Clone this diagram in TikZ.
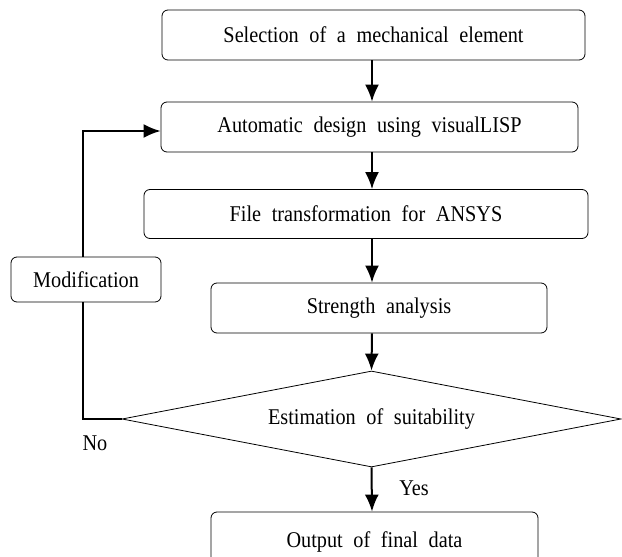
\documentclass[tikz,border=0pt]{standalone}
\usepackage{fontspec}
\setmainfont{Liberation Serif}[WordSpace=2.1, FakeStretch=0.9]
\usetikzlibrary{positioning,shapes.geometric,arrows.meta}

\begin{document}
\begin{tikzpicture}[x=1pt, y=-1pt,
	main/.style={rectangle, rounded corners=6pt, text centered, draw=black, line width=0.8pt, inner sep=0pt, minimum height=50pt, font=\fontsize{22.5}{26}\selectfont},
	test/.style={diamond, aspect=5.2, text centered, draw=black, line width=0.8pt, inner sep=0pt, minimum width=499pt, minimum height=96pt, font=\fontsize{22.5}{26}\selectfont},
	flow/.style={line width=2pt, -{Latex[length=17pt, width=14pt]}},
	lbl/.style={font=\fontsize{22.5}{26}\selectfont}
	]
	\clip (0,0) rectangle (622,557);
	\coordinate (axis) at (372,0);
	\coordinate (back) at (83,0);

		\node (select) [main, minimum width=423pt] at (373.5,35) {Selection of a mechanical element};
		\node (auto) [main, minimum width=417pt] at (369.5,127) {Automatic design using visualLISP};
		\node (ansys) [main, minimum width=444pt, minimum height=49pt] at (366,214) {File transformation for ANSYS};
		\node (strength) [main, minimum width=336pt] at (379,308) {Strength analysis};
		\node (suit) [test] at (371.5,419) {Estimation of suitability};
		\node (final) [main, minimum width=327pt, minimum height=60pt] at (374.5,542) {Output of final data};
		\node (modif) [main, minimum width=150pt, minimum height=45pt] at (86,279.5) {Modification};
		\node (no) [lbl] at (95,443) {No};
		\node (yes) [lbl] at (414,488) {Yes};

	\draw [flow] (select.south -| axis) -- (auto.north -| axis);
	\draw [flow] (auto.south -| axis) -- (ansys.north -| axis);
	\draw [flow] (ansys.south -| axis) -- (strength.north -| axis);
	\draw [flow] (strength.south -| axis) -- (suit.north);
	\draw [flow] (suit.south) -- (final.north -| axis);

	\draw [line width=2pt] (suit.west) -- (suit.west -| back) -- (modif.south -| back);
	\draw [flow] (modif.north -| back) |- ([yshift=-4pt]auto.west);

\end{tikzpicture}
\end{document}
